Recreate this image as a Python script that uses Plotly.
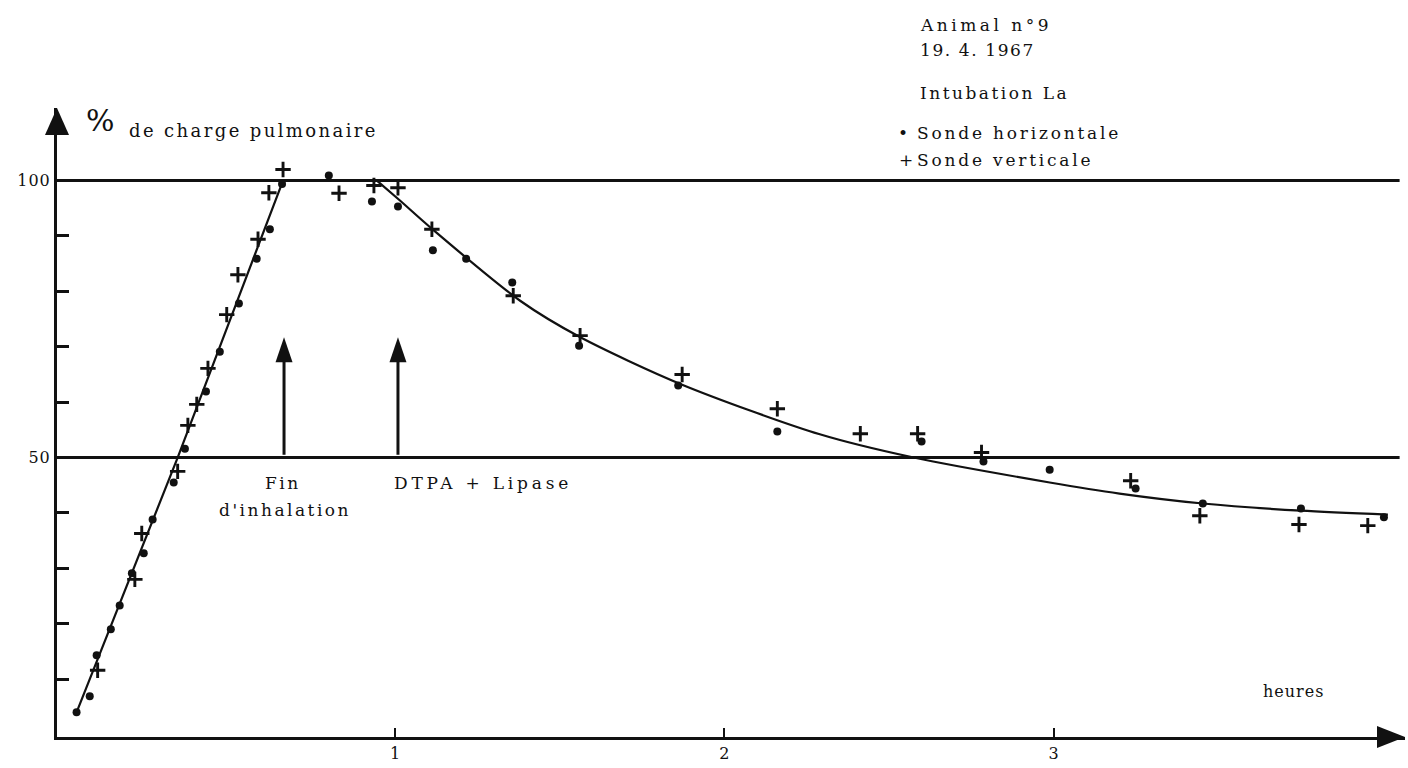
import plotly.graph_objects as go

# ---------------- data ----------------
# Sonde horizontale (dots): time in hours, % of lung load
horiz_h = [0.033, 0.073, 0.094, 0.137, 0.164, 0.201, 0.237, 0.264, 0.328, 0.362,
           0.426, 0.468, 0.526, 0.580, 0.620, 0.657,
           0.799, 0.930, 1.009, 1.115, 1.216, 1.356, 1.559, 1.860, 2.161,
           2.599, 2.787, 2.988, 3.249, 3.453, 3.751, 4.003]
horiz_v = [4.0, 6.9, 14.3, 19.0, 23.3, 29.1, 32.7, 38.8, 45.5, 51.6,
           61.9, 69.1, 77.8, 85.9, 91.2, 99.4,
           100.9, 96.2, 95.3, 87.4, 85.9, 81.6, 70.2, 63.0, 54.7,
           52.9, 49.3, 47.8, 44.4, 41.7, 40.8, 39.2]

# Sonde verticale (crosses)
vert_h = [0.097, 0.210, 0.231, 0.340, 0.371, 0.398, 0.432, 0.489, 0.523, 0.584,
          0.617, 0.660,
          0.830, 0.936, 1.009, 1.112, 1.359, 1.562, 1.872, 2.161, 2.413, 2.587,
          2.781, 3.234, 3.444, 3.745, 3.954]
vert_v = [11.6, 28.0, 36.3, 47.5, 55.8, 59.6, 66.1, 75.8, 83.0, 89.4,
          97.8, 102.0,
          97.7, 99.1, 98.7, 91.2, 79.2, 72.0, 65.0, 58.8, 54.3, 54.3,
          50.9, 45.8, 39.5, 37.9, 37.7]

# Drawn fitted curves
fit_rise_h = [0.033, 0.34, 0.66]
fit_rise_v = [4.0, 50.0, 100.0]
fit_decay_h = [0.945, 1.015, 1.112, 1.38, 1.56, 1.87, 2.29, 2.575, 2.988, 3.2, 3.453, 3.75, 4.015]
fit_decay_v = [100.0, 96.4, 91.3, 78.3, 71.8, 63.2, 54.2, 50.0, 45.5, 43.5, 41.7, 40.4, 39.7]

ref_levels = [50, 100]

event_h = [0.663, 1.009]
event_base = 50
event_tip = 71.7

y_ticks = [10, 20, 30, 40, 50, 60, 70, 80, 90, 100]
y_ticklabels = ["", "", "", "", "50", "", "", "", "", "100"]
x_ticks = [1, 2, 3]
x_ticklabels = ["1", "2", "3"]

# ---------------- layout helpers ----------------
W, H = 1408, 768
PL, PR, PT, PB = 57, 1405, 108, 737      # plot area pixel edges
X_RANGE = [-0.0264, 4.067]
Y_RANGE = [-0.45, 113.1]
FONT = "DejaVu Serif"
INK = "#111111"


def fx(p):
    return (p - PL) / (PR - PL)


def fy(p):
    return (PB - p) / (PB - PT)


def spaced(t, ls=2.5):
    return "<span style='letter-spacing:%spx'>%s</span>" % (ls, t)


fig = go.Figure()

fig.add_trace(go.Scatter(x=fit_rise_h, y=fit_rise_v, mode="lines",
                         line=dict(color=INK, width=2.2), hoverinfo="skip"))
fig.add_trace(go.Scatter(x=fit_decay_h, y=fit_decay_v, mode="lines",
                         line=dict(color=INK, width=2.2, shape="spline", smoothing=0.8),
                         hoverinfo="skip"))
fig.add_trace(go.Scatter(x=horiz_h, y=horiz_v, mode="markers", name="Sonde horizontale",
                         marker=dict(symbol="circle", size=8, color=INK), cliponaxis=False))
fig.add_trace(go.Scatter(x=vert_h, y=vert_v, mode="markers", name="Sonde verticale",
                         marker=dict(symbol="cross-thin", size=11,
                                     line=dict(color=INK, width=2.9)), cliponaxis=False))

shapes = []
for lv in ref_levels:
    shapes.append(dict(type="line", xref="paper", yref="y", x0=0, x1=0.996, y0=lv, y1=lv,
                       line=dict(color=INK, width=3), layer="below"))
# axis arrow heads
shapes.append(dict(type="path", xref="paper", yref="paper", xsizemode="pixel", ysizemode="pixel",
                   xanchor=0, yanchor=1, path="M0,0 L-12,-27 L12,-27 Z",
                   fillcolor=INK, line=dict(width=0)))
shapes.append(dict(type="path", xref="paper", yref="paper", xsizemode="pixel", ysizemode="pixel",
                   xanchor=1, yanchor=0, path="M0,0 L-28,11 L-28,-11 Z",
                   fillcolor=INK, line=dict(width=0)))
# event arrows
for eh in event_h:
    shapes.append(dict(type="line", xref="x", yref="y", x0=eh, x1=eh, y0=event_base + 0.5,
                       y1=event_tip - 3, line=dict(color=INK, width=3)))
    shapes.append(dict(type="path", xref="x", yref="y", xsizemode="pixel", ysizemode="pixel",
                       xanchor=eh, yanchor=event_tip, path="M0,0 L-8.5,-25 L8.5,-25 Z",
                       fillcolor=INK, line=dict(width=0)))

ann = []


def text(t, x, y, size=17, anchor="left", ls=2.5):
    ann.append(dict(text=spaced(t, ls), x=fx(x), y=fy(y), xref="paper", yref="paper",
                    xanchor=anchor, yanchor="middle", showarrow=False,
                    font=dict(family=FONT, size=size, color=INK)))


text("%", 100, 120, size=30, anchor="center", ls=0)
text("de charge pulmonaire", 127, 131, size=18, ls=2.4)
text("Fin", 283, 483, anchor="center")
text("d'inhalation", 285, 510, anchor="center")
text("DTPA + Lipase", 392, 483, ls=3.8)
text("heures", 1293, 691, size=16, anchor="center", ls=1)
text("Animal n°9", 918, 25, ls=3.5)
text("19. 4. 1967", 918, 50, ls=1.6)
text("Intubation La", 918, 93)
text("•", 903, 133, anchor="center", ls=0)
text("Sonde horizontale", 915, 133, ls=2.8)
text("+", 906, 160, anchor="center", ls=0)
text("Sonde verticale", 915, 160, ls=2.8)

fig.update_layout(
    width=W, height=H,
    margin=dict(l=PL, r=W - PR, t=PT, b=H - PB, pad=0),
    paper_bgcolor="white", plot_bgcolor="white",
    showlegend=False,
    shapes=shapes, annotations=ann,
    xaxis=dict(range=X_RANGE, showline=True, linewidth=3, linecolor=INK,
               ticks="inside", ticklen=9, tickwidth=2, tickcolor=INK,
               tickvals=x_ticks, ticktext=x_ticklabels,
               tickfont=dict(family=FONT, size=16, color=INK),
               showgrid=False, zeroline=False),
    yaxis=dict(range=Y_RANGE, showline=True, linewidth=3, linecolor=INK,
               ticks="inside", ticklen=12, tickwidth=3, tickcolor=INK,
               tickvals=y_ticks, ticktext=[spaced(t, 1) if t else t for t in y_ticklabels],
               tickfont=dict(family=FONT, size=16, color=INK),
               showgrid=False, zeroline=False),
)

fig.write_html("out.html", config={"displayModeBar": False},
               post_script="document.body.style.margin='0';")
